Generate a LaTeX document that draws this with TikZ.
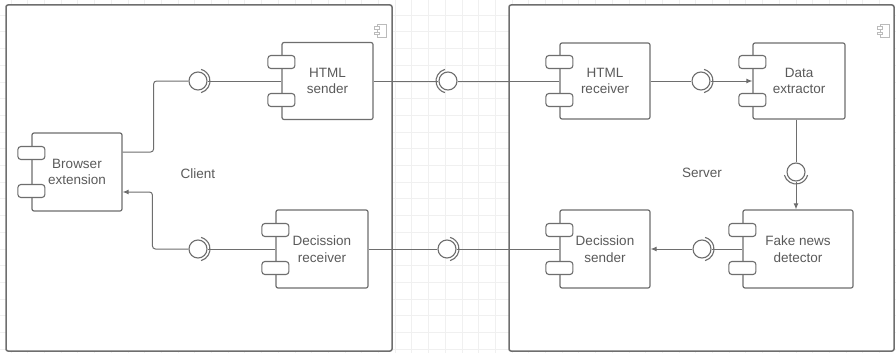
\documentclass[tikz,border=0pt]{standalone}
\usepackage{fontspec}
\setmainfont{Liberation Sans}
\usetikzlibrary{arrows.meta}
\definecolor{ln}{HTML}{6E6E6E}
\definecolor{tx}{HTML}{5A5A5A}
\definecolor{gr}{HTML}{F0F0F0}
\definecolor{ic}{HTML}{BBBBBB}
\newcommand\compports[1]{%
  \node[port] (#1-p1) at ([yshift=19pt]#1.west) {};
  \node[port] (#1-p2) at ([yshift=-19pt]#1.west) {};}
\newcommand\sock[2]{\draw[ln, line width=1.1pt] (#1.center) ++(#2-75:12pt) arc[start angle=#2-75, end angle=#2+75, radius=12pt];}
\newcommand\cicon[2]{%
  \draw[ic, line width=0.8pt] (#1,#2) rectangle ++(9pt,-13pt);
  \draw[ic, line width=0.8pt, fill=white] (#1-2.5,#2+2.5) rectangle ++(5pt,-2.5pt);
  \draw[ic, line width=0.8pt, fill=white] (#1-2.5,#2+8) rectangle ++(5pt,-2.5pt);}
\begin{document}
\begin{tikzpicture}[x=1pt,y=-1pt,
  comp/.style={draw=ln, line width=1.2pt, rounded corners=2pt, fill=white, inner sep=0pt},
  port/.style={draw=ln, line width=1.1pt, rounded corners=3pt, fill=white, minimum width=27pt, minimum height=13pt, inner sep=0pt},
  ball/.style={circle, draw=ln, line width=1.1pt, fill=white, minimum size=18pt, inner sep=0pt},
  wire/.style={draw=ln, line width=1pt},
  arr/.style={wire, -{Latex[length=6pt,width=5pt]}},
  cont/.style={draw=ln, line width=1.5pt, rounded corners=2pt, fill=white, inner sep=0pt},
  lbl/.style={text=tx, align=center, font=\fontsize{13.5}{16.5}\selectfont}
]
\useasboundingbox (0,0) rectangle (896,353);
\clip (0,0) rectangle (896,353);
% background grid
\foreach \i in {-24,...,30} {\draw[gr, line width=0.5pt] ({395+16.7*\i},0) -- ({395+16.7*\i},353);}
\foreach \j in {-1,...,21} {\draw[gr, line width=0.5pt] (0,{15+16.7*\j}) -- (896,{15+16.7*\j});}
% containers
\node[cont, minimum width=386pt, minimum height=346pt] (client) at (199,178) {};
\node[cont, minimum width=385pt, minimum height=346pt] (server) at (701.5,178) {};
\cicon{377}{24}
\cicon{880}{24}
\node[lbl] (clientlbl) at (198,174) {Client};
\node[lbl] (serverlbl) at (702,173) {Server};
% components
\node[comp, minimum width=91pt, minimum height=77pt] (hs) at (327.5,81) {};
\node[comp, minimum width=90pt, minimum height=78pt] (be) at (77,172) {};
\node[comp, minimum width=92pt, minimum height=78pt] (dr) at (322,249) {};
\node[comp, minimum width=90pt, minimum height=76pt] (hr) at (605,81) {};
\node[comp, minimum width=92pt, minimum height=76pt] (de) at (799,81) {};
\node[comp, minimum width=90pt, minimum height=78pt] (ds) at (605,249) {};
\node[comp, minimum width=110pt, minimum height=78pt] (fn) at (798,249) {};
\compports{hs}\compports{be}\compports{dr}\compports{hr}\compports{de}\compports{ds}\compports{fn}
\node[lbl] (hst) at (hs) {HTML\\sender};
\node[lbl] (bet) at (be) {Browser\\extension};
\node[lbl] (drt) at (dr) {Decission\\receiver};
\node[lbl] (hrt) at (hr) {HTML\\receiver};
\node[lbl] (det) at (de) {Data\\extractor};
\node[lbl] (dst) at (ds) {Decission\\sender};
\node[lbl] (fnt) at (fn) {Fake news\\detector};
% interface balls
\node[ball] (l1) at (198,81) {};
\node[ball] (l2) at (448,81) {};
\node[ball] (l3) at (701,81) {};
\node[ball] (l4) at (796,172) {};
\node[ball] (l5) at (702,249) {};
\node[ball] (l6) at (198,249) {};
\node[ball] (l7) at (447,249) {};
% connectors
\draw[wire, rounded corners=3pt] ([yshift=20pt]be.east) -- ++(31pt,0) |- (l1.west);
\draw[wire] (l1.east) -- (hs.west |- l1.east);
\draw[wire] (hs.east) -- (l2.west);
\draw[wire] (l2.east) -- (hr.west);
\draw[wire] (hr.east) -- (l3.west);
\draw[arr] (l3.east) -- (de.west);
\draw[wire] (de.south -| l4) -- (l4.north);
\draw[arr] (l4.south) -- (fn.north -| l4);
\draw[wire] (fn.west) -- (l5.east);
\draw[arr] (l5.west) -- (ds.east);
\draw[wire] (ds.west) -- (l7.east);
\draw[wire] (l7.west) -- (dr.east);
\draw[wire] (dr.west) -- (l6.east);
\draw[arr, rounded corners=3pt] (l6.west) -- ++(-36pt,0) |- ([yshift=-20pt]be.east);
% sockets
\sock{l1}{0}
\sock{l2}{180}
\sock{l3}{0}
\sock{l4}{-90}
\sock{l5}{0}
\sock{l6}{0}
\sock{l7}{0}
\end{tikzpicture}
\end{document}
